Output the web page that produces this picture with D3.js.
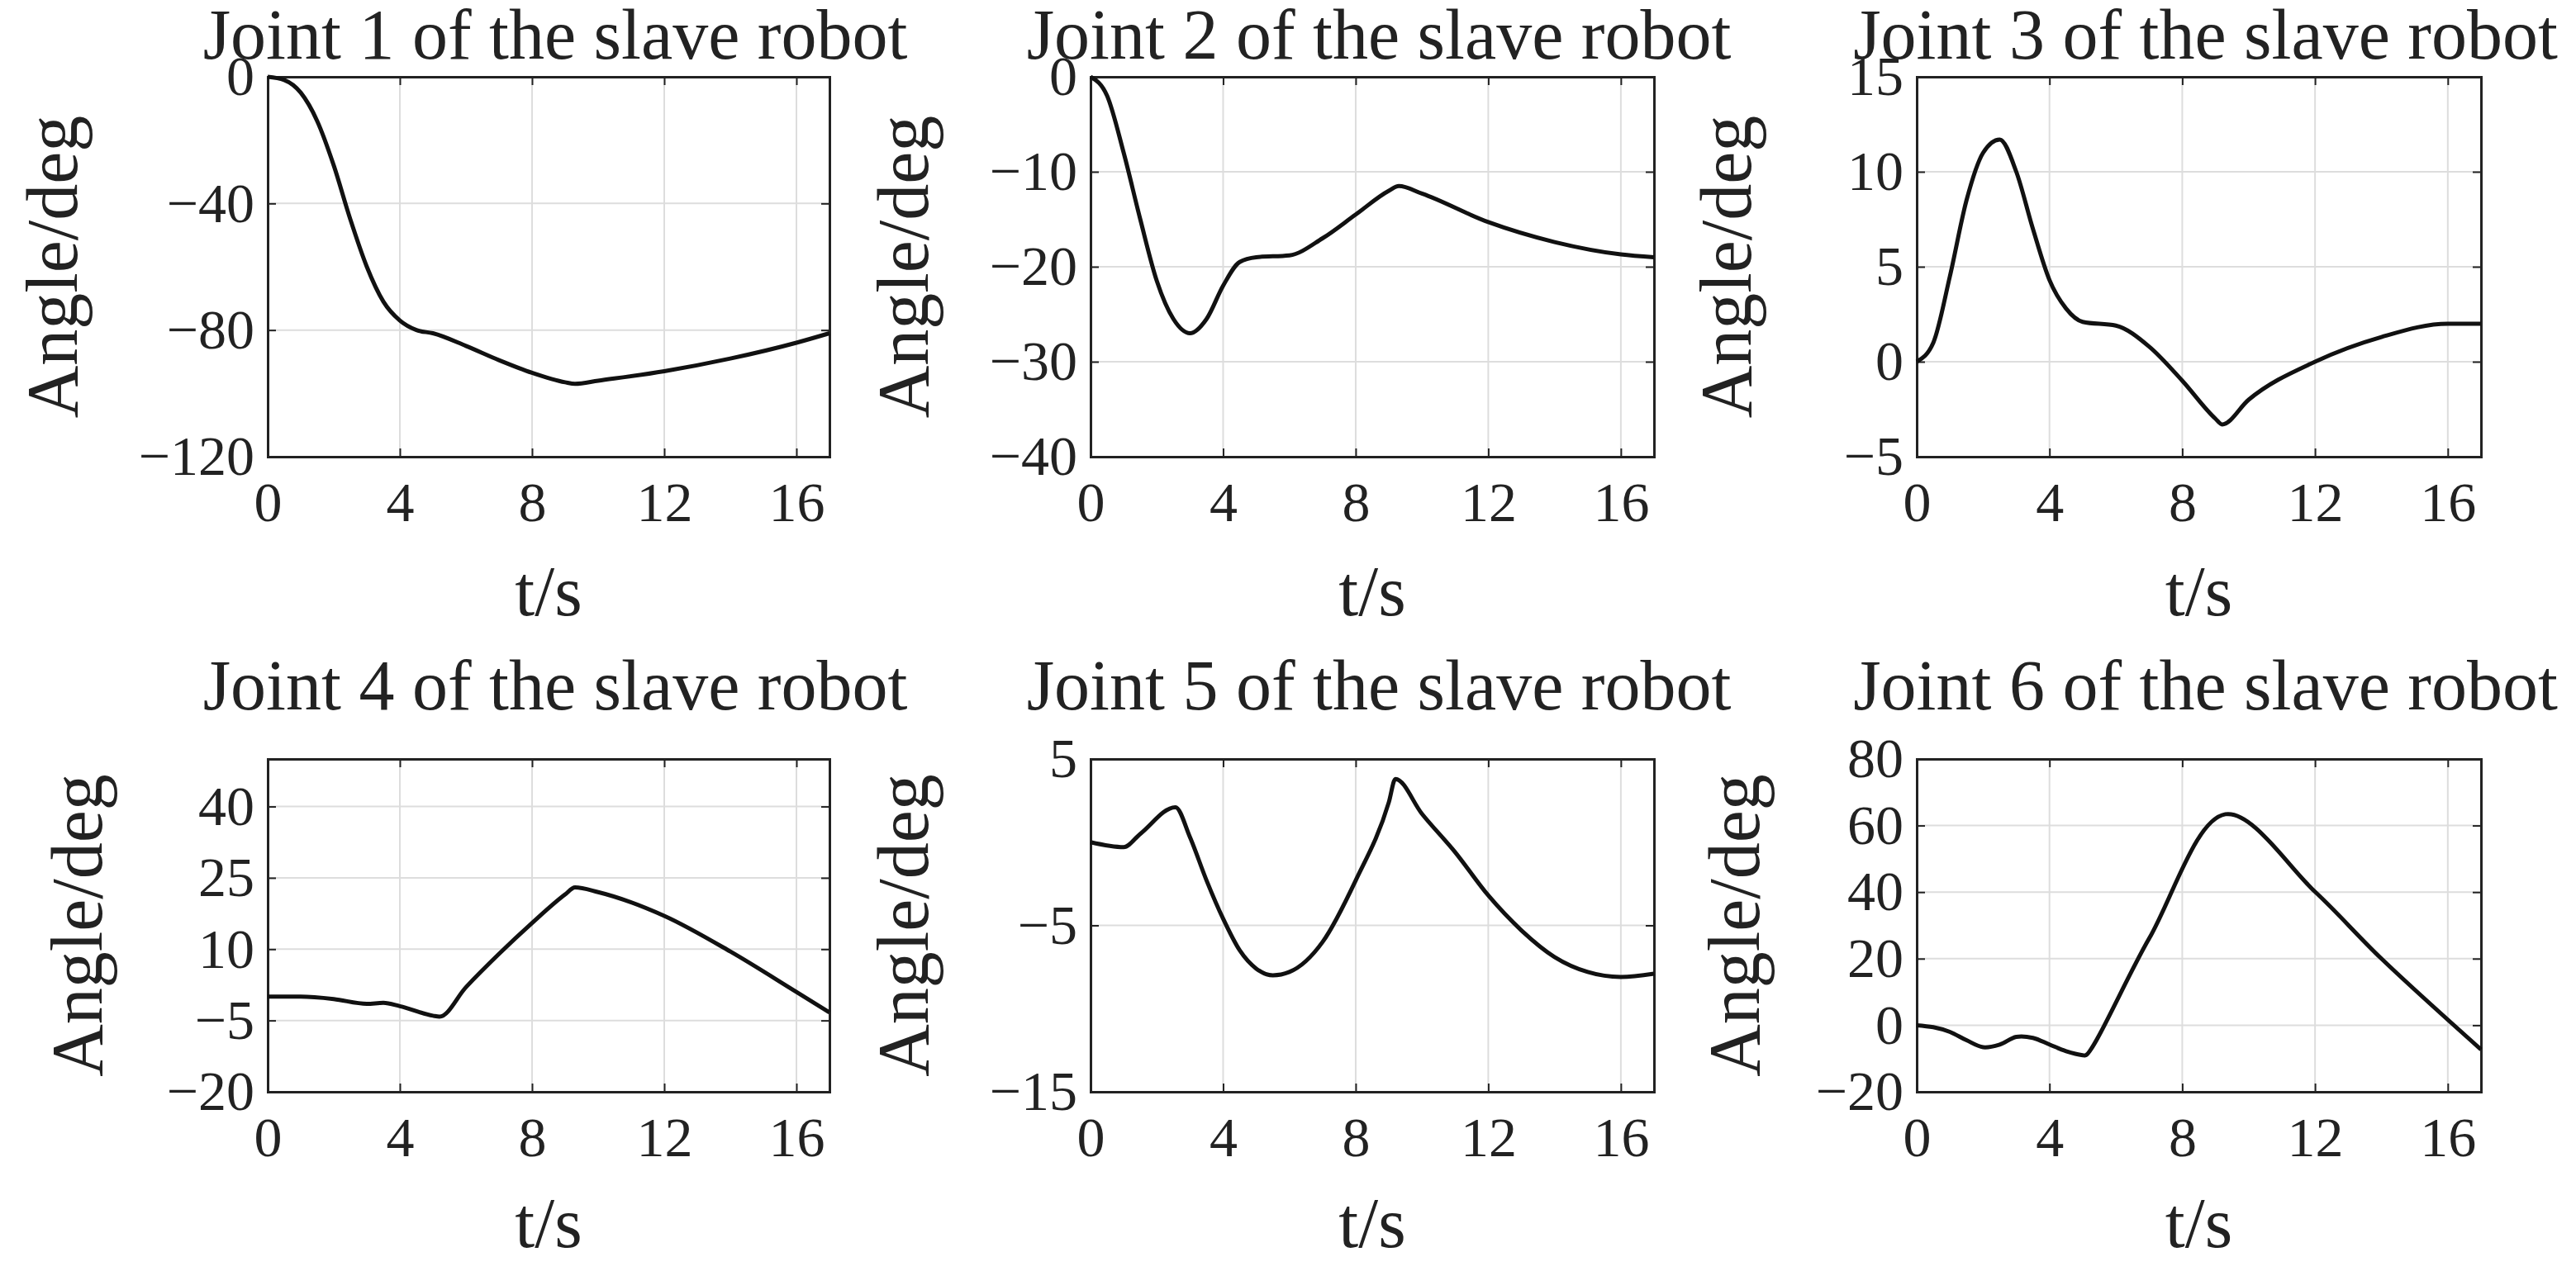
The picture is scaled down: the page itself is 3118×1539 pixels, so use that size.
<!DOCTYPE html>
<html><head><meta charset="utf-8">
<script src="https://cdn.jsdelivr.net/npm/d3@7"></script>
<style>body{margin:0;background:#fff}text{font-family:"Liberation Serif","DejaVu Serif",serif;fill:#222}</style>
</head><body>
<script>
var W=3118,H=1539;
var xTicks=[0,4,8,12,16];
var titles=["Joint 1 of the slave robot","Joint 2 of the slave robot","Joint 3 of the slave robot","Joint 4 of the slave robot","Joint 5 of the slave robot","Joint 6 of the slave robot"];
var yDomains=[[-120,0],[-40,0],[-5,15],[-20,50],[-15,5],[-20,80]];
var yTicks=[[-120,-80,-40,0],[-40,-30,-20,-10,0],[-5,0,5,10,15],[-20,-5,10,25,40],[-15,-5,5],[-20,0,20,40,60,80]];
var t1=[0,0.5,1,1.5,2,2.5,3,3.5,4,4.5,5,6,7,8,9,9.3,10,12,14,16,17];
var j1=[0,-1,-5,-14,-28,-45,-60,-71,-77,-80,-81,-85,-89.5,-93.5,-96.5,-97,-96,-93,-89,-84,-81];
var t2=[0,0.5,1,1.5,2,2.5,3,3.5,4,4.5,5,6,7,8,9,9.3,10,12,14,16,17];
var j2=[0,-2,-8,-15,-21.5,-25.5,-27,-25.5,-22,-19.5,-19,-18.8,-17,-14.5,-12,-11.5,-12.3,-15.3,-17.4,-18.7,-19];
var t3=[0,0.5,1,1.5,2,2.5,3,3.5,4,4.5,5,6,7,8,9,9.2,10,12,14,16,17];
var j3=[0,1,4.5,8.5,11,11.7,10,7,4.3,2.8,2.1,1.9,0.8,-1,-3,-3.3,-2,0,1.3,2,2];
var t4=[0,1,2,3,3.5,4,5,5.2,6,7,8,9,9.3,10,12,14,16,17];
var j4=[0,0,-0.5,-1.5,-1.3,-2,-4,-4.2,2,9,15.5,21.5,23,22,17,9.5,1,-3.3];
var t5=[0,1,1.5,2.56,3,3.5,4,4.5,5,5.5,6,7,8,9,9.2,10,11,12,13,14,15,16,17];
var j5=[0,-0.3,0.5,2.1,0.3,-2.3,-4.6,-6.5,-7.6,-8,-7.8,-6,-2.3,2.4,3.8,1.7,-0.6,-3.2,-5.3,-6.9,-7.8,-8.1,-7.9];
var t6=[0,0.5,1,1.5,2,2.5,3,3.5,4,4.5,5,5.1,7,9.3,12,14,17];
var j6=[0,-0.6,-2,-4.5,-6.6,-5.8,-3.5,-3.8,-5.8,-7.8,-9,-9,26,63.4,40.1,20,-7.3];
var series=[[t1,j1],[t2,j2],[t3,j3],[t4,j4],[t5,j5],[t6,j6]];
var curves=[d3.curveMonotoneX,d3.curveMonotoneX,d3.curveMonotoneX,d3.curveMonotoneX,d3.curveMonotoneX,d3.curveCatmullRom.alpha(0.5)];
var cols=[[324,1004],[1320,2002],[2320,3003]];
var rows=[[93,553],[919,1322]];
var ylabX=[[62,1092,2088],[92,1092,2098]];

var svg=d3.select("body").append("svg").attr("width",W).attr("height",H);
series.forEach(function(s,i){
  var r=Math.floor(i/3),c=i%3;
  var x=d3.scaleLinear().domain([0,17]).range(cols[c]);
  var y=d3.scaleLinear().domain(yDomains[i]).range([rows[r][1],rows[r][0]]);
  var g=svg.append("g");
  // grid
  g.selectAll(".gx").data(xTicks).enter().append("line").attr("x1",d=>x(d)).attr("x2",d=>x(d))
    .attr("y1",rows[r][0]).attr("y2",rows[r][1]).attr("stroke","#ddd").attr("stroke-width",2);
  g.selectAll(".gy").data(yTicks[i]).enter().append("line").attr("y1",d=>y(d)).attr("y2",d=>y(d))
    .attr("x1",cols[c][0]).attr("x2",cols[c][1]).attr("stroke","#ddd").attr("stroke-width",2);
  // axes with inward ticks
  var gb=g.append("g").attr("transform","translate(0,"+rows[r][1]+")")
    .call(d3.axisBottom(x).tickValues(xTicks).tickSize(-10).tickPadding(30));
  var gl=g.append("g").attr("transform","translate("+cols[c][0]+",0)")
    .call(d3.axisLeft(y).tickValues(yTicks[i]).tickSize(-10).tickPadding(16).tickFormat(d=>d<0?"\u2212"+(-d):d));
  g.append("g").attr("transform","translate(0,"+rows[r][0]+")").call(d3.axisTop(x).tickValues(xTicks).tickSize(-10).tickFormat(""));
  g.append("g").attr("transform","translate("+cols[c][1]+",0)").call(d3.axisRight(y).tickValues(yTicks[i]).tickSize(-10).tickFormat(""));
  g.selectAll(".domain").attr("stroke","#222").attr("stroke-width",3);
  g.selectAll(".tick line").attr("stroke","#222").attr("stroke-width",2);
  g.selectAll(".tick text").style("font-family","Liberation Serif, serif").style("font-size","68px").attr("fill","#333");
  gb.selectAll(".tick text").attr("dy","0.71em");
  // line
  var pts=s[0].map((t,k)=>[t,s[1][k]]);
  g.append("path").datum(pts).attr("fill","none").attr("stroke","#111").attr("stroke-width",5)
    .attr("d",d3.line().x(d=>x(d[0])).y(d=>y(d[1])).curve(curves[i]));
  // labels
  var cx=(cols[c][0]+cols[c][1])/2;
  g.append("text").attr("x",cx+8).attr("y",r==0?rows[r][0]-22:rows[r][0]-60).attr("text-anchor","middle").attr("font-size",86).text(titles[i]);
  g.append("text").attr("x",cx).attr("y",r==0?745:1510).attr("text-anchor","middle").attr("font-size",86).text("t/s");
  var cy=(rows[r][0]+rows[r][1])/2;
  g.append("text").attr("transform","translate("+ylabX[r][c]+","+cy+") rotate(-90)").attr("text-anchor","middle")
    .attr("dy","0.35em").attr("font-size",88).text("Angle/deg");
});
</script>
</body></html>
